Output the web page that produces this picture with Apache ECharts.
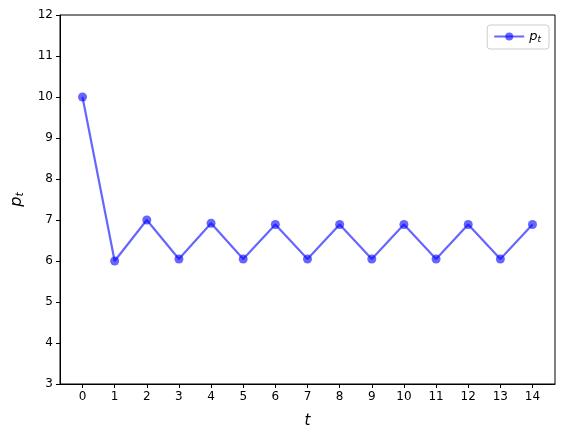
<!DOCTYPE html>
<html><head><meta charset="utf-8">
<script src="https://cdn.jsdelivr.net/npm/echarts@6/dist/echarts.min.js"></script>
<style>html,body{margin:0;padding:0;background:#fff}#c{width:565px;height:440px}</style>
</head><body><div id="c"></div>
<script>
const tValues = [0,1,2,3,4,5,6,7,8,9,10,11,12,13,14];
const pValues = [10, 6.0, 7.0, 6.05, 6.92, 6.05, 6.89, 6.05, 6.89, 6.05, 6.89, 6.05, 6.89, 6.05, 6.89];
const xTicks = [0,1,2,3,4,5,6,7,8,9,10,11,12,13,14];
const yTicks = [3,4,5,6,7,8,9,10,11,12];

const chart = echarts.init(document.getElementById('c'), null, {renderer:'canvas'});
const font = 'DejaVu Sans';
chart.setOption({
  animation:false,
  textStyle:{fontFamily:font},
  grid:{left:60,right:10,top:15,bottom:56,show:true,borderColor:'#000',borderWidth:1,containLabel:false,outerBoundsMode:'none'},
  legend:{
    right:16, top:25, itemWidth:30, itemHeight:10,
    borderColor:'#ccc', borderWidth:1, borderRadius:3, padding:[5,8,5,6],
    data:[{name:'pt'}],
    formatter:()=>'{p|p}{s|t}',
    textStyle:{rich:{p:{fontStyle:'italic',fontSize:13,fontFamily:font,color:'#000'},s:{fontStyle:'italic',fontSize:9,verticalAlign:'bottom',padding:[6,0,0,0],fontFamily:font,color:'#000'}}}
  },
  xAxis:{
    type:'value', min:-0.7, max:14.7,
    name:'t', nameLocation:'middle', nameGap:30,
    nameTextStyle:{fontStyle:'italic',fontSize:15,color:'#000',fontFamily:font},
    axisLine:{show:true,onZero:false,lineStyle:{color:'#000'}},
    axisTick:{show:true,customValues:xTicks,length:4,lineStyle:{color:'#000'}},
    axisLabel:{customValues:xTicks,color:'#000',fontSize:12,margin:7},
    splitLine:{show:false}
  },
  yAxis:{
    type:'value', min:3, max:12, interval:1,
    name:'{p|p}{s|t}', nameLocation:'middle', nameGap:34, nameRotate:90,
    nameTextStyle:{rich:{p:{fontStyle:'italic',fontSize:16,fontFamily:font,color:'#000'},s:{fontStyle:'italic',fontSize:11,fontFamily:font,color:'#000',padding:[8,0,0,0]}}},
    axisLine:{show:true,onZero:false,lineStyle:{color:'#000'}},
    axisTick:{show:true,length:4,lineStyle:{color:'#000'}},
    axisLabel:{color:'#000',fontSize:12,margin:7},
    splitLine:{show:false}
  },
  series:[{
    name:'pt', type:'line',
    data:tValues.map((t,i)=>[t,pValues[i]]),
    symbol:'circle', symbolSize:9,
    lineStyle:{color:'rgba(0,0,255,0.6)',width:2.2},
    itemStyle:{color:'rgba(0,0,255,0.6)',borderWidth:0}
  }]
});
</script></body></html>
